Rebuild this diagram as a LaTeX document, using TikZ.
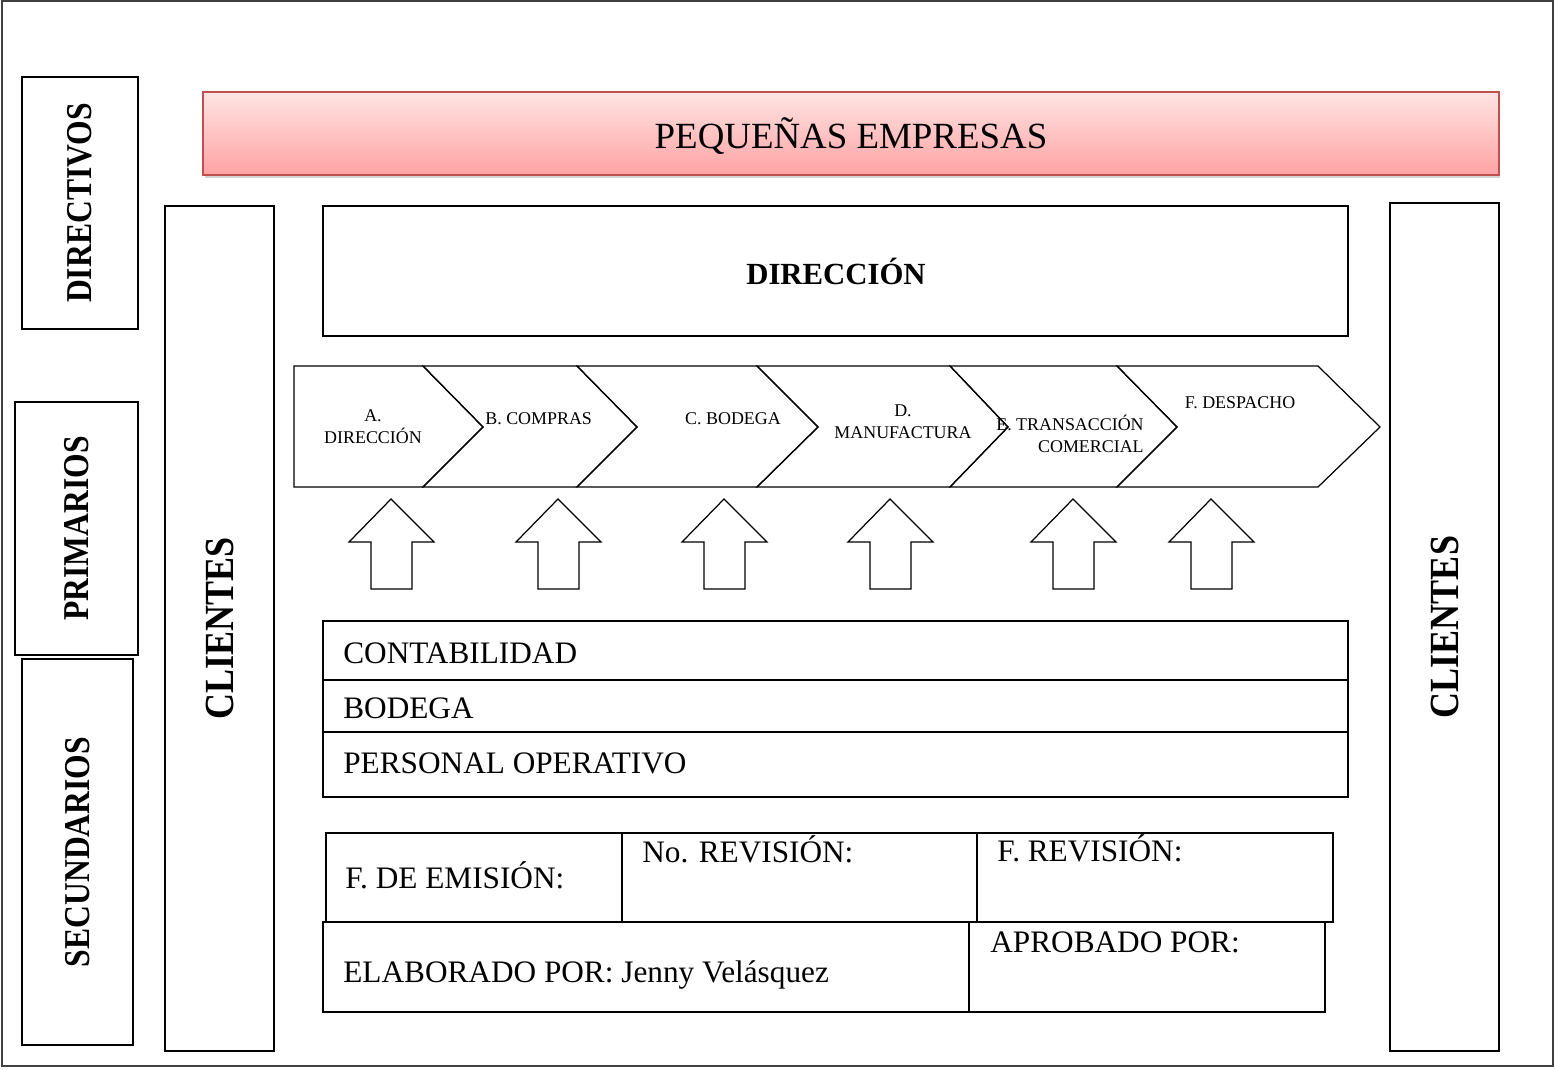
\documentclass[tikz,border=0pt]{standalone}
\usepackage{fontspec}
\usepackage{graphicx}
\setmainfont{Liberation Serif}
\usetikzlibrary{shadows}
\definecolor{bannerred}{HTML}{C0504D}
\definecolor{bannertop}{HTML}{FFE4E4}
\definecolor{bannerbot}{HTML}{FFA2A2}
\newcommand{\tallbf}[1]{\scalebox{1}[1.15]{\bfseries #1}}

\begin{document}
\begin{tikzpicture}[
		x=0.02cm, y=-0.02cm,
		box/.style={draw, line width=0.7pt},
		side/.style={box, rotate=90, inner sep=0pt, font=\fontsize{18}{20}\selectfont},
		clients/.style={box, rotate=90, inner sep=0pt, minimum width=16.9cm, minimum height=2.18cm, font=\fontsize{20.5}{24}\selectfont},
		banner/.style={draw=bannerred, line width=1pt, top color=bannertop, bottom color=bannerbot,
				drop shadow={shadow xshift=0.03cm, shadow yshift=-0.07cm, opacity=0.35},
				minimum width=25.92cm, minimum height=1.66cm},
		stage/.style={font=\fontsize{10.2}{12.2}\selectfont, inner sep=0pt},
		rowtext/.style={font=\fontsize{17.8}{20}\selectfont, inner sep=0pt, anchor=base west},
		uparrow/.style={draw, line width=0.7pt, fill=white}
	]
	\useasboundingbox (0,0) rectangle (1555,1069);
	\draw[line width=1pt, black!75] (2,1) rectangle (1553,1066);

	% niveles
	\node[side, minimum width=5.04cm, minimum height=2.32cm] (directivos) at (80,203) {\tallbf{DIRECTIVOS}};
	\node[side, minimum width=5.06cm, minimum height=2.46cm] (primarios) at (76.5,528.5) {\tallbf{PRIMARIOS}};
	\node[side, minimum width=7.72cm, minimum height=2.22cm] (secundarios) at (77.5,852) {\tallbf{SECUNDARIOS}};

	% clientes
	\node[clients] (clientes-izq) at (219.5,628.5) {\tallbf{CLIENTES}};
	\node[clients, minimum width=16.96cm] (clientes-der) at (1444.5,627) {\tallbf{CLIENTES}};

	% encabezado
	\node[banner] (empresas) at (851,133.5) {};
	\node[font=\fontsize{21}{24}\selectfont, anchor=base, inner sep=0pt] (empresas-t) at (851,148) {PEQUEÑAS EMPRESAS};
	\node[box, minimum width=20.5cm, minimum height=2.6cm] (direccion) at (835.5,271) {};
	\node[font=\fontsize{17.5}{20}\selectfont\bfseries, anchor=base, inner sep=0pt] (direccion-t) at (836,284) {DIRECCIÓN};

	% cadena de procesos
	\draw[line width=0.7pt] (294,366) -- (423,366) -- (483,427) -- (423,487) -- (294,487) -- cycle;
	\draw[line width=0.7pt] (423,366) -- (577,366) -- (637,427) -- (577,487) -- (423,487) -- (483,427) -- cycle;
	\draw[line width=0.7pt] (577,366) -- (757,366) -- (818,427) -- (757,487) -- (577,487) -- (637,427) -- cycle;
	\draw[line width=0.7pt] (757,366) -- (950,366) -- (1008,427) -- (950,487) -- (757,487) -- (818,427) -- cycle;
	\draw[line width=0.7pt] (950,366) -- (1117,366) -- (1177,427) -- (1117,487) -- (950,487) -- (1008,427) -- cycle;
	\draw[line width=0.7pt] (1117,366) -- (1318,366) -- (1380,427) -- (1318,487) -- (1117,487) -- (1177,427) -- cycle;

	\node[stage, align=center] (etapa-a) at (373,426.5) {A.\\DIRECCIÓN};
	\node[stage, anchor=base west] (etapa-b) at (485,424) {B. COMPRAS};
	\node[stage, anchor=base] (etapa-c) at (733,424) {C. BODEGA};
	\node[stage, align=center] (etapa-d) at (903,421.5) {D.\\MANUFACTURA};
	\node[stage, align=right] (etapa-e) at (1070,434) {E. TRANSACCIÓN\\COMERCIAL};
	\node[stage, anchor=base] (etapa-f) at (1240,408) {F. DESPACHO};

	% flechas de apoyo
	\foreach \x in {391,558,724,890,1073,1211}
	\draw[uparrow] (\x,499) -- ({\x+43},542) -- ({\x+21},542) -- ({\x+21},589)
	-- ({\x-20},589) -- ({\x-20},542) -- ({\x-42},542) -- cycle;

	% areas de soporte
	\node[box, minimum width=20.5cm, minimum height=1.18cm] (contabilidad) at (835.5,650.5) {};
	\node[box, minimum width=20.5cm, minimum height=1.04cm] (bodega) at (835.5,706) {};
	\node[box, minimum width=20.5cm, minimum height=1.3cm] (personal) at (835.5,764.5) {};
	\node[rowtext] (contabilidad-t) at (343,663) {CONTABILIDAD};
	\node[rowtext] (bodega-t) at (343,718) {BODEGA};
	\node[rowtext] (personal-t) at (343,773) {PERSONAL OPERATIVO};

	% cuadro de control
	\node[box, minimum width=5.92cm, minimum height=1.78cm] (emision) at (474,877.5) {};
	\node[box, minimum width=7.1cm, minimum height=1.78cm] (norev) at (799.5,877.5) {};
	\node[box, minimum width=7.12cm, minimum height=1.78cm] (frev) at (1155,877.5) {};
	\node[box, minimum width=12.92cm, minimum height=1.8cm] (elaborado) at (646,967) {};
	\node[box, minimum width=7.12cm, minimum height=1.8cm] (aprobado) at (1147,967) {};
	\node[rowtext] (emision-t) at (345,888) {F. DE EMISIÓN:};
	\node[rowtext] (norev-t) at (642,862) {No. REVISIÓN:};
	\node[rowtext] (frev-t) at (997,861) {F. REVISIÓN:};
	\node[rowtext] (elaborado-t) at (343,982) {ELABORADO POR: Jenny Velásquez};
	\node[rowtext] (aprobado-t) at (990,952) {APROBADO POR:};
\end{tikzpicture}
\end{document}
